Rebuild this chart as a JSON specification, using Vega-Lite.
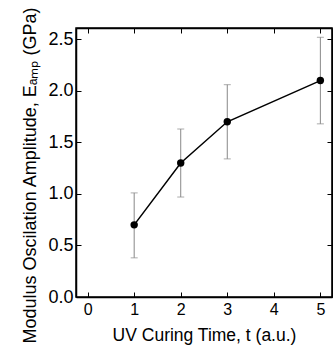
{
  "$schema": "https://vega.github.io/schema/vega-lite/v6.json",
  "width": 256,
  "height": 269,
  "autosize": {"type": "none"},
  "padding": {"left": 76, "top": 28, "right": 1, "bottom": 56},
  "background": "white",
  "config": {
    "view": {"stroke": "black", "strokeWidth": 1.5},
    "font": "Liberation Sans",
    "axis": {
      "grid": false,
      "domainColor": "black",
      "domainWidth": 1.5,
      "tickColor": "black",
      "tickWidth": 1,
      "labelColor": "black",
      "labelFont": "Liberation Sans",
      "titleFont": "Liberation Sans",
      "titleFontWeight": "normal",
      "titleColor": "black"
    }
  },
  "data": {
    "values": [
      {"t": 1, "E": 0.7, "lo": 0.38, "hi": 1.01},
      {"t": 2, "E": 1.3, "lo": 0.97, "hi": 1.63},
      {"t": 3, "E": 1.7, "lo": 1.34, "hi": 2.06},
      {"t": 5, "E": 2.1, "lo": 1.68, "hi": 2.52}
    ]
  },
  "resolve": {"axis": {"x": "independent", "y": "independent"}},
  "layer": [
    {
      "mark": {"type": "rule", "color": "#888888", "strokeWidth": 1},
      "encoding": {
        "x": {"field": "t", "type": "quantitative", "axis": null},
        "y": {"field": "lo", "type": "quantitative", "axis": null},
        "y2": {"field": "hi"}
      }
    },
    {
      "mark": {"type": "tick", "color": "#888888", "orient": "horizontal", "size": 7, "thickness": 1},
      "encoding": {
        "x": {"field": "t", "type": "quantitative", "axis": null},
        "y": {"field": "lo", "type": "quantitative", "axis": null}
      }
    },
    {
      "mark": {"type": "tick", "color": "#888888", "orient": "horizontal", "size": 7, "thickness": 1},
      "encoding": {
        "x": {"field": "t", "type": "quantitative", "axis": null},
        "y": {"field": "hi", "type": "quantitative", "axis": null}
      }
    },
    {
      "mark": {"type": "line", "color": "black", "strokeWidth": 1.5},
      "encoding": {
        "x": {
          "field": "t", "type": "quantitative",
          "scale": {"domain": [-0.25, 5.25], "nice": false, "zero": false},
          "axis": {
            "orient": "bottom", "values": [0, 1, 2, 3, 4, 5], "tickSize": -5,
            "labelFontSize": 16, "titleFontSize": 17.5,
            "labelPadding": 9, "title": "UV Curing Time, t (a.u.)", "titlePadding": 9
          }
        },
        "y": {
          "field": "E", "type": "quantitative",
          "scale": {"domain": [0, 2.61], "nice": false, "zero": true},
          "axis": {
            "orient": "left", "values": [0, 0.5, 1, 1.5, 2, 2.5], "format": ".1f", "tickSize": -5,
            "labelFontSize": 18, "titleFontSize": 18, "titleY": 147,
            "labelPadding": 8, "title": "Modulus Oscilation Amplitude, Eₐₘₚ (GPa)", "titlePadding": 8
          }
        }
      }
    },
    {
      "mark": {"type": "point", "filled": true, "color": "black", "opacity": 1, "size": 55},
      "encoding": {
        "x": {"field": "t", "type": "quantitative", "axis": null},
        "y": {"field": "E", "type": "quantitative", "axis": null}
      }
    },
    {
      "mark": {"type": "point", "opacity": 0},
      "encoding": {
        "x": {
          "field": "t", "type": "quantitative",
          "axis": {"orient": "top", "values": [0, 1, 2, 3, 4, 5], "tickSize": -5, "labels": false, "title": null}
        },
        "y": {
          "field": "E", "type": "quantitative",
          "axis": {"orient": "right", "values": [0, 0.5, 1, 1.5, 2, 2.5], "tickSize": -5, "labels": false, "title": null}
        }
      }
    }
  ]
}
